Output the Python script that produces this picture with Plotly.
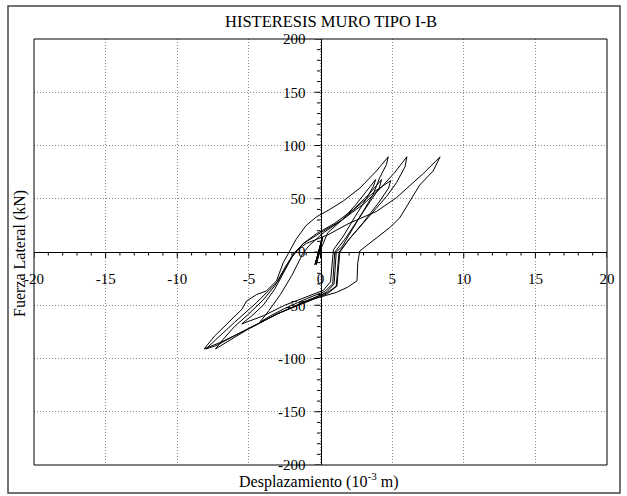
import plotly.graph_objects as go

# ---- data (displacement in 10^-3 m, lateral force in kN) ----
blob_x = [0, 0.05, 0.1, -0.05, -0.25, -0.35, -0.2, 0.0, 0.12, -0.05, -0.3, -0.4, -0.15, 0.05, 0.15, 0.0,
          -0.2, -0.3, -0.1, 0.05, -0.1, -0.35, -0.2, 0.1, -0.15, -0.3, 0.0]
blob_y = [0, 9, 12, 4, -6, -11, -5, 5, 13, 3, -8, -12, -3, 8, 14, 6,
          -4, -12, -2, 10, 2, -10, -4, 11, -1, -9, 2]

c1_x = [0.5, 1.5, 2.5, 3.2, 3.85, 3.7, 3.2, 2.4, 1.6, 0.9, 0.8, 0.7, 0.2, -1.0, -2.5, -4.0, -5.5]
c1_y = [18, 30, 45, 57, 68, 62, 50, 33, 15, 2, -12, -28, -36, -42, -50, -60, -67.5]

c2_x = [-4.8, -4.0, -3.2, -2.5, -2.0, -1.7, -1.2, -0.3, 1.0, 2.3, 3.3, 4.26, 4.1, 3.5, 2.6, 1.7, 1.0, 0.95, 0.85, 0.3, -1.0, -2.5, -3.5, -4.24]
c2_y = [-60, -50, -35, -18, -5, 0, 8, 17, 27, 40, 53, 68, 60, 48, 30, 12, 0, -15, -30, -37, -44, -53, -60, -66]

c3_x = [-3.6, -2.8, -2.0, -1.4, -1.26, -0.8, 0.2, 1.5, 2.7, 3.8, 4.9, 4.75, 4.1, 3.0, 2.0, 1.3, 1.2, 1.1, 0.5, -1.0, -3.0, -5.0, -7.0, -8.12]
c3_y = [-55, -40, -22, -6, -2, 6, 18, 30, 44, 57, 67, 60, 47, 28, 12, 0, -15, -32, -38, -46, -58, -72, -85, -91]

c4_x = [-7.4, -6.8, -6.45, -5.5, -5.16, -4.47, -3.77, -3.07, -2.6, -2.2, -1.7, -1.0, -0.28, 0.65, 1.6, 2.75, 3.9, 4.73,
        4.6, 4.14, 3.67, 2.97, 2.2, 1.5, 1.1, 1.0, 0.95, 0.4, -1.0, -3.0, -5.0, -6.5, -7.33]
c4_y = [-79, -71, -66, -54, -46, -40, -36.5, -27, -10, 0, 12, 25, 33, 40, 48, 60, 76, 89.4,
        82, 70, 54, 38, 20, 5, 0, -15, -30, -38, -46, -58, -72, -84, -91]

c5_x = [-6.8, -6.0, -5.0, -4.0, -3.2, -2.5, -1.9, -1.2, 0.0, 1.5, 3.0, 4.2, 5.2, 6.03,
        5.9, 5.3, 4.6, 3.8, 3.0, 2.0, 1.35, 1.25, 1.15, 0.5, -1.0, -3.0, -5.5, -7.3, -8.0]
c5_y = [-82, -70, -58, -45, -32, -15, -2, 8, 18, 30, 45, 60, 75, 89.4,
        80, 65, 52, 40, 28, 12, 0, -15, -32, -39, -47, -58, -75, -88, -91]

c6_x = [-7.3, -6.0, -4.5, -3.0, -2.3, -1.8, -1.0, 0.5, 2.0, 3.9, 5.3, 6.2, 7.2, 8.35,
        7.86, 6.93, 6.23, 5.53, 4.84, 3.9, 2.74, 2.6, 2.55, 1.9, 1.1, -0.2, -1.4]
c6_y = [-82, -66, -48, -28, -12, 0, 8, 16, 27, 38, 51, 62, 74, 89.4,
        76, 63, 48, 32, 23, 13, 1, -10, -27, -33, -38, -43, -47.5]

disp = blob_x + c1_x + c2_x + c3_x + c4_x + c5_x + c6_x
force = blob_y + c1_y + c2_y + c3_y + c4_y + c5_y + c6_y

x_ticks = [-20, -15, -10, -5, 0, 5, 10, 15, 20]
x_labels = ["-20", "-15", "-10", "-5", "0", "5", "10", "15", "20"]
y_ticks = [-200, -150, -100, -50, 0, 50, 100, 150, 200]
y_labels = ["-200", "-150", "-100", "-50", "0", "50", "100", "150", "200"]
x_minor_step = 1
y_minor_step = 10

title_text = "HISTERESIS MURO TIPO I-B"
x_title = "Desplazamiento (10<sup>-3</sup> m)"
y_title = "Fuerza Lateral (kN)"

FONT = "Liberation Serif"
W, H = 627, 496
ML, MR, MT, MB = 34, 20, 39, 31
PW, PH = W - ML - MR, H - MT - MB
X_RANGE = [x_ticks[0], x_ticks[-1]]
Y_RANGE = [y_ticks[0], y_ticks[-1]]
MAJOR_LEN, MINOR_LEN = 6, 3.5

x_minor = [v * x_minor_step for v in range(int(x_ticks[0] / x_minor_step), int(x_ticks[-1] / x_minor_step) + 1)
           if v * x_minor_step not in x_ticks]
y_minor = [v * y_minor_step for v in range(int(y_ticks[0] / y_minor_step), int(y_ticks[-1] / y_minor_step) + 1)
           if v * y_minor_step not in y_ticks]

# size of one screen pixel in data units (tick marks of a fixed pixel length)
DX_PER_PX = (X_RANGE[1] - X_RANGE[0]) / PW
DY_PER_PX = (Y_RANGE[1] - Y_RANGE[0]) / PH


def px_x(p):
    return (p - ML) / PW


def px_y(p):
    return (H - MB - p) / PH


# tick-mark segments below the x axis and left of the y axis (axes cross at the origin)
tick_x, tick_y = [], []
for v in x_ticks + x_minor:
    ln = MAJOR_LEN if v in x_ticks else MINOR_LEN
    tick_x += [v, v, None]
    tick_y += [0, -ln * DY_PER_PX, None]
for v in y_ticks + y_minor:
    ln = MAJOR_LEN if v in y_ticks else MINOR_LEN
    tick_x += [0, -ln * DX_PER_PX, None]
    tick_y += [v, v, None]

fig = go.Figure()
fig.add_trace(go.Scatter(x=tick_x, y=tick_y, mode="lines", line=dict(color="black", width=1),
                         showlegend=False, hoverinfo="skip"))
fig.add_trace(go.Scatter(x=disp, y=force, mode="lines",
                         line=dict(color="black", width=1), showlegend=False,
                         hoverinfo="skip"))

axis_common = dict(
    showline=True, linecolor="black", linewidth=1,
    ticks="", showgrid=True, gridcolor="#8c8c8c", griddash="1px,2px", gridwidth=1,
    zeroline=False, anchor="free", position=0.5,
    tickfont=dict(family=FONT, size=15, color="black"),
)

fig.update_layout(
    width=W, height=H,
    margin=dict(l=ML, r=MR, t=MT, b=MB),
    paper_bgcolor="white", plot_bgcolor="white",
    xaxis=dict(range=X_RANGE, tickmode="array", tickvals=x_ticks, ticktext=x_labels,
               ticklabelstandoff=13, **axis_common),
    yaxis=dict(range=Y_RANGE, tickmode="array", tickvals=y_ticks, ticktext=y_labels,
               ticklabelstandoff=12, **axis_common),
    shapes=[
        dict(type="rect", xref="paper", yref="paper", x0=0, x1=1, y0=0, y1=1,
             line=dict(color="black", width=1)),
        dict(type="rect", xref="paper", yref="paper",
             x0=px_x(8), x1=px_x(620), y0=px_y(493), y1=px_y(6),
             line=dict(color="#444444", width=1.5)),
    ],
    annotations=[
        dict(text=title_text, xref="paper", yref="paper", x=px_x(331), y=px_y(21),
             xanchor="center", yanchor="middle", showarrow=False,
             font=dict(family=FONT, size=16.5, color="black")),
        dict(text=x_title, xref="paper", yref="paper", x=px_x(319), y=px_y(480),
             xanchor="center", yanchor="middle", showarrow=False,
             font=dict(family=FONT, size=16, color="black")),
        dict(text=y_title, xref="paper", yref="paper", x=px_x(20), y=px_y(254),
             xanchor="center", yanchor="middle", showarrow=False, textangle=-90,
             font=dict(family=FONT, size=16, color="black")),
    ],
)

fig.write_html("out.html")
